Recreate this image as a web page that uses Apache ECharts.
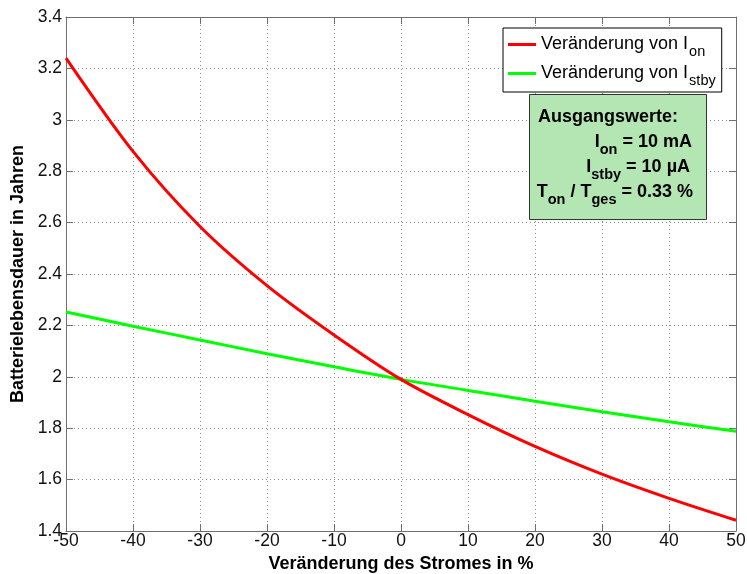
<!DOCTYPE html>
<html>
<head>
<meta charset="utf-8">
<script src="https://cdn.jsdelivr.net/npm/echarts@6/dist/echarts.min.js"></script>
<style>
html,body{margin:0;padding:0;background:#fff;}
#chart{width:747px;height:574px;}
</style>
</head>
<body>
<div id="chart"></div>
<script>
// Data
var changePercent = [-50, -40, -30, -20, -10, 0, 10, 20, 30, 40, 50];
var lifeIon =   [3.24, 2.877, 2.585, 2.355, 2.163, 1.99, 1.853, 1.729, 1.621, 1.527, 1.442];
var lifeIstby = [2.252, 2.197, 2.143, 2.09, 2.039, 1.99, 1.947, 1.905, 1.864, 1.825, 1.788];
var seriesNames = ['Veränderung von I_on', 'Veränderung von I_stby'];
var legendMain = ['Veränderung von I', 'Veränderung von I'];
var legendSub = ['on', 'stby'];
var xTicks = {min: -50, max: 50, interval: 10};
var yTicks = {min: 1.4, max: 3.4, interval: 0.2};

function pairs(xs, ys) { return xs.map(function (x, i) { return [x, ys[i]]; }); }

var FONT = 'Liberation Sans, Arial, sans-serif';
var axisColor = '#6e6e6e';

var chart = echarts.init(document.getElementById('chart'), null, {renderer: 'canvas'});

var richSub = {
  a: {fontSize: 18, lineHeight: 19, verticalAlign: 'top', fontFamily: FONT, color: '#000'},
  s: {fontSize: 14.5, lineHeight: 15, verticalAlign: 'top', padding: [9, 0, 0, 1], fontFamily: FONT, color: '#000'}
};
var richBold = {
  a: {fontSize: 18, lineHeight: 18, verticalAlign: 'top', fontFamily: FONT, fontWeight: 'bold', color: '#000'},
  s: {fontSize: 14.5, lineHeight: 15, verticalAlign: 'top', padding: [9, 0, 0, 0], fontFamily: FONT, fontWeight: 'bold', color: '#000'}
};

function boxText(x, y, align, text) {
  return {
    type: 'text', x: x, y: y, z: 101,
    style: {text: text, rich: richBold, align: align, verticalAlign: 'top', fontFamily: FONT, fontSize: 18, fontWeight: 'bold', fill: '#000'}
  };
}

var option = {
  backgroundColor: '#fff',
  animation: false,
  grid: {left: 66, right: 11, top: 17, bottom: 43, containLabel: false, outerBoundsMode: 'none'},
  xAxis: [{
    type: 'value', min: xTicks.min, max: xTicks.max, interval: xTicks.interval,
    name: 'Veränderung des Stromes in %', nameLocation: 'middle', nameGap: 18,
    nameTextStyle: {fontFamily: FONT, fontSize: 18, fontWeight: 'bold', color: '#000'},
    axisLine: {show: true, onZero: false, lineStyle: {color: axisColor, width: 1}},
    axisTick: {show: true, inside: true, length: 7, lineStyle: {color: axisColor}},
    axisLabel: {margin: 1, fontFamily: FONT, fontSize: 17.5, color: '#111', showMinLabel: true, showMaxLabel: true},
    splitLine: {show: true, lineStyle: {color: '#8c8c8c', type: [1, 3], width: 1}}
  }, {
    type: 'value', position: 'top', min: xTicks.min, max: xTicks.max, interval: xTicks.interval,
    axisLine: {show: true, onZero: false, lineStyle: {color: axisColor, width: 1}},
    axisTick: {show: true, inside: true, length: 7, lineStyle: {color: axisColor}},
    axisLabel: {show: false}, splitLine: {show: false}
  }],
  yAxis: [{
    type: 'value', min: yTicks.min, max: yTicks.max, interval: yTicks.interval,
    name: 'Batterielebensdauer in Jahren', nameLocation: 'middle', nameGap: 28, nameRotate: 90,
    nameTextStyle: {fontFamily: FONT, fontSize: 18, fontWeight: 'bold', color: '#000'},
    axisLine: {show: true, onZero: false, lineStyle: {color: axisColor, width: 1}},
    axisTick: {show: true, inside: true, length: 7, lineStyle: {color: axisColor}},
    axisLabel: {margin: 4, fontFamily: FONT, fontSize: 17.5, color: '#111', showMinLabel: true, showMaxLabel: true},
    splitLine: {show: true, lineStyle: {color: '#8c8c8c', type: [1, 3], width: 1}}
  }, {
    type: 'value', position: 'right', min: yTicks.min, max: yTicks.max, interval: yTicks.interval,
    axisLine: {show: true, onZero: false, lineStyle: {color: axisColor, width: 1}},
    axisTick: {show: true, inside: true, length: 7, lineStyle: {color: axisColor}},
    axisLabel: {show: false}, splitLine: {show: false}
  }],
  legend: {
    show: true, orient: 'vertical', left: 503, top: 28,
    padding: [7, 6, 4, 5], itemGap: 5, itemWidth: 28, itemHeight: 3, icon: 'rect',
    backgroundColor: '#fff', borderColor: '#000', borderWidth: 1,
    data: seriesNames,
    formatter: function (name) {
      var i = seriesNames.indexOf(name);
      return '{a|' + legendMain[i] + '}{s|' + legendSub[i] + '}';
    },
    textStyle: {fontFamily: FONT, fontSize: 18, color: '#000', rich: richSub}
  },
  graphic: [
    {type: 'rect', z: 100, shape: {x: 529.5, y: 94.5, width: 177, height: 125},
     style: {fill: 'rgb(179,230,179)', stroke: '#333', lineWidth: 1}},
    boxText(538, 108, 'left', '{a|Ausgangswerte:}'),
    boxText(692, 133, 'right', '{a|I}{s|on}{a| = 10 mA}'),
    boxText(690, 158, 'right', '{a|I}{s|stby}{a| = 10 µA}'),
    boxText(693, 183, 'right', '{a|T}{s|on}{a| / T}{s|ges}{a| = 0.33 %}')
  ],
  series: [{
    name: seriesNames[0], type: 'line', xAxisIndex: 0, yAxisIndex: 0,
    data: pairs(changePercent, lifeIon), smooth: 0.3, showSymbol: false, symbol: 'none',
    lineStyle: {color: '#ff0000', width: 3}, itemStyle: {color: '#ff0000'}, z: 3
  }, {
    name: seriesNames[1], type: 'line', xAxisIndex: 0, yAxisIndex: 0,
    data: pairs(changePercent, lifeIstby), smooth: 0.3, showSymbol: false, symbol: 'none',
    lineStyle: {color: '#00ff00', width: 3}, itemStyle: {color: '#00ff00'}, z: 2
  }]
};
chart.setOption(option);
</script>
</body>
</html>
